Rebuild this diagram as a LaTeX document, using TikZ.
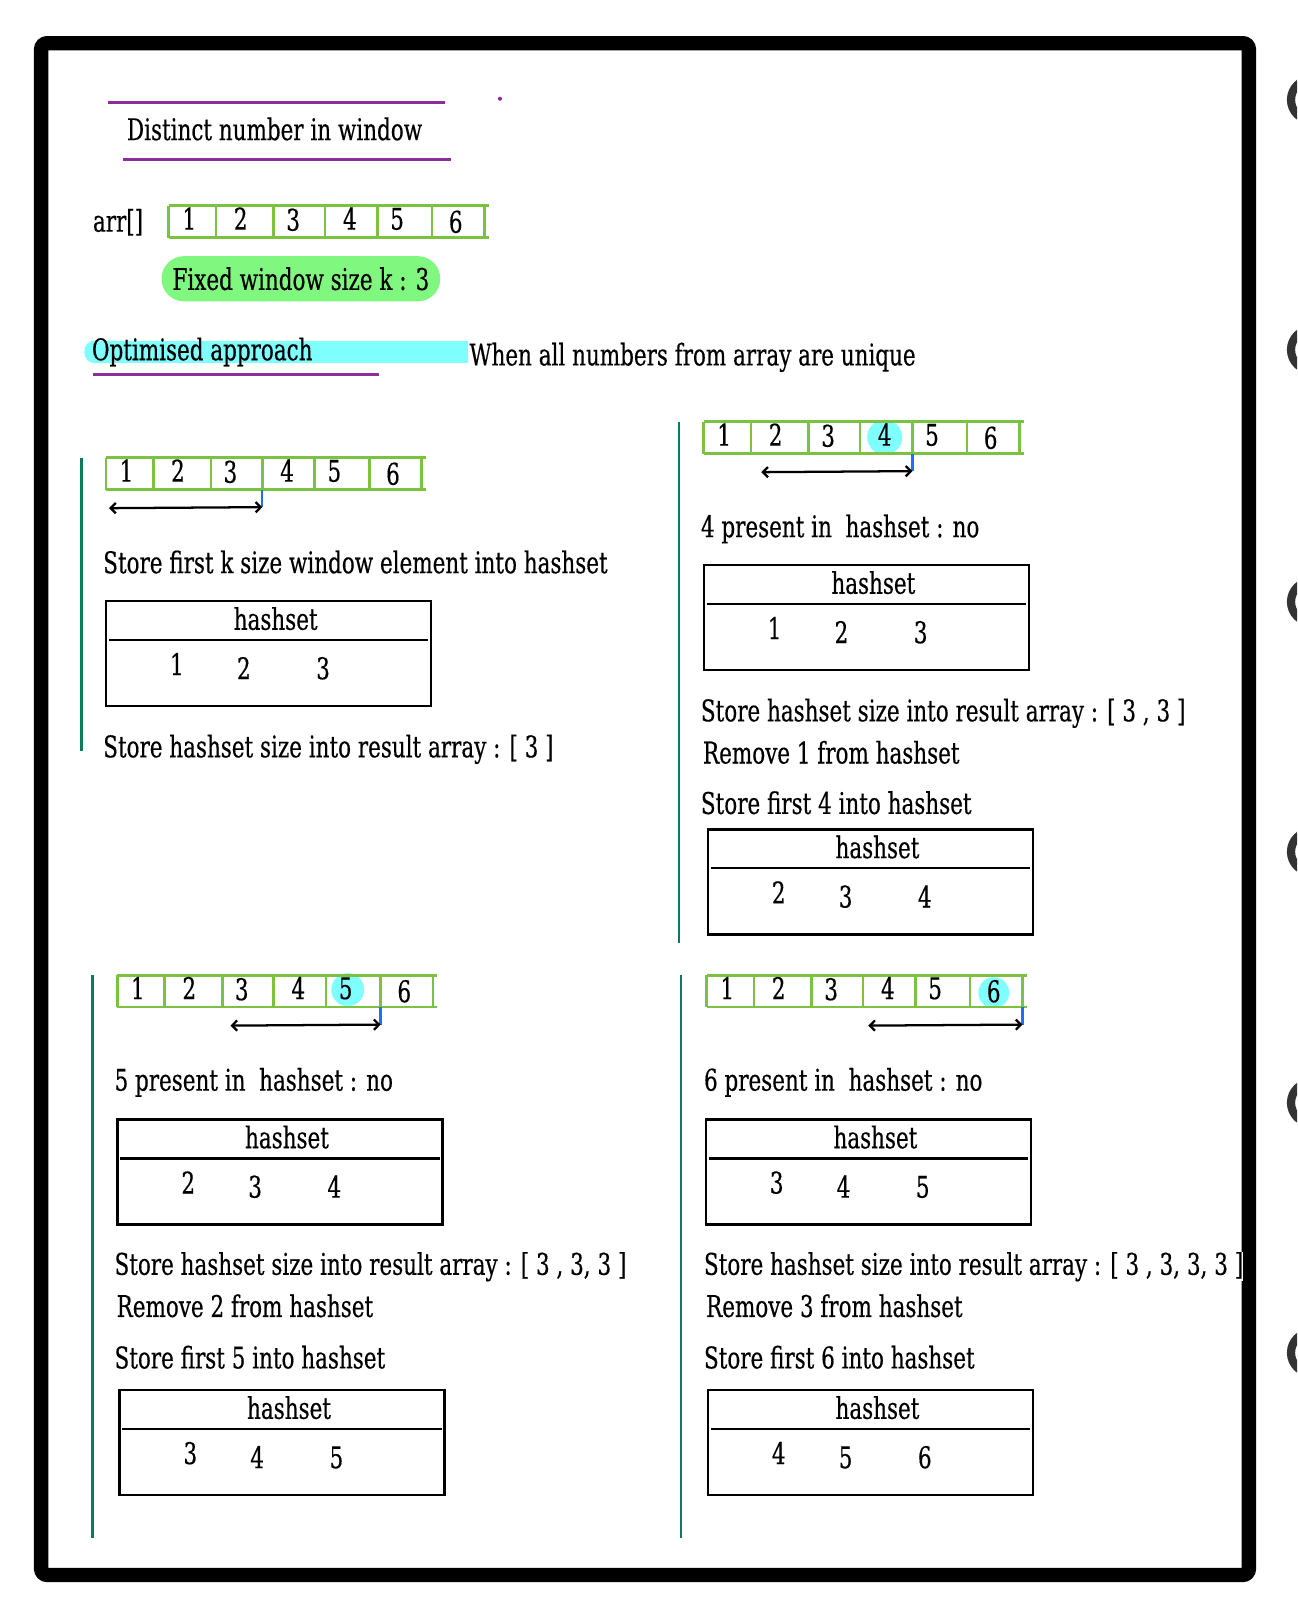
\documentclass[tikz,border=0pt]{standalone}
\usepackage{fontspec}
\setmainfont{DejaVu Serif}[FakeStretch=0.72,FakeBold=0.4]
\usetikzlibrary{arrows.meta,calc}
\definecolor{arrgreen}{HTML}{7CC242}
\definecolor{panelgreen}{HTML}{0E7A5A}
\definecolor{titlepurple}{HTML}{8E2C9C}
\definecolor{pillgreen}{HTML}{80F880}
\definecolor{hlcyan}{HTML}{80FFFF}
\definecolor{tickblue}{HTML}{1F6FFF}
\definecolor{ringgray}{HTML}{333333}
\tikzset{
  txt/.style={inner sep=0pt, anchor=mid west, yshift=-2pt, font=\fontsize{14.5pt}{17pt}\selectfont},
  ctxt/.style={inner sep=0pt, anchor=mid, yshift=-2pt, font=\fontsize{14.5pt}{17pt}\selectfont},
  arrline/.style={draw=arrgreen, line width=1.3pt},
  hsbox/.style={draw, line width=1.2pt, minimum width=158pt, minimum height=51pt, inner sep=0pt, anchor=north west},
  hsline/.style={line width=1.2pt},
  panelline/.style={draw=panelgreen, line width=1.3pt},
  purpleline/.style={draw=titlepurple, line width=1.4pt},
  tickline/.style={draw=tickblue, line width=1.1pt},
  warrow/.style={line width=1.1pt, arrows={Straight Barb[length=2.5pt,width=5pt]-Straight Barb[length=2.5pt,width=5pt]}},
  hlcircle/.style={circle, fill=hlcyan, inner sep=0pt, minimum size=#1},
  ring/.style={draw=ringgray, line width=4pt},
  pill/.style={fill=pillgreen, rounded corners=11pt, minimum width=135.5pt, minimum height=22pt, inner sep=0pt, font=\fontsize{14.5pt}{17pt}\selectfont},
  numrow/.pic={
    \draw[arrline] (0,0) -- (311,0) (0,31) -- (311,31);
    \foreach \x [count=\i from 0] in {0,46,102,152,203,256,307}{
      \draw[arrline] (\x,0) -- (\x,31);
      \coordinate (-d\i) at (\x,31);
    }
    \foreach \x/\d/\y in {20/1/14,70/2/14,121/3/15,176/4/14,222/5/14,279/6/17}
      \node[ctxt] (-n\d) at (\x,\y) {\d};
  }
}
\newcommand\hsetbox[6]{%
  \node[hsbox] (#1) at (#2,#3) {};
  \node[ctxt] (#1-h) at ($(#1.north west)+(166,20)$) {hashset};
  \coordinate (#1-l) at ($(#1.north west)+(4,39)$);
  \coordinate (#1-r) at ($(#1.north east)+(-4,39)$);
  \draw[hsline] (#1-l) -- (#1-r);
  \node[ctxt] (#1-a) at ($(#1.north west)+(70,64)$) {#4};
  \node[ctxt] (#1-b) at ($(#1.north west)+(135,68)$) {#5};
  \node[ctxt] (#1-c) at ($(#1.north west)+(212,68)$) {#6};
}
\begin{document}
\begin{tikzpicture}[x=0.5pt,y=-0.5pt]
\useasboundingbox (0,0) rectangle (1261,1568);
\clip (0,0) rectangle (1261,1568);
\fill[white] (0,0) rectangle (1261,1568);
% binder rings
\foreach \yy [count=\i] in {97,340,585,828,1072,1315}
  \draw[ring] (1275,\yy) circle[radius=10pt];
% frame
\draw[line width=7pt, rounded corners=3pt] (40,42) rectangle (1214,1531);

% title
\coordinate (tl1) at (105,100); \coordinate (tl2) at (433,100);
\draw[purpleline] (tl1) -- (tl2);
\node[txt] (title) at (123,127) {Distinct number in window};
\coordinate (bl1) at (120,155); \coordinate (bl2) at (438,155);
\draw[purpleline] (bl1) -- (bl2);
\fill[titlepurple] (486,96) circle[radius=1pt];

% array
\node[txt] (arrlabel) at (90,216) {arr[]};
\pic (a0) at (164,200) {numrow};
\node[pill] (kwin) at (292.5,271) {Fixed window size k : 3};

% optimised approach
\fill[hlcyan, rounded corners=5pt] (82,331) rectangle (120,353);
\fill[hlcyan] (100,331) rectangle (455,353);
\node[txt] (opt) at (89,341) {Optimised approach};
\coordinate (ol1) at (90,364); \coordinate (ol2) at (368,364);
\draw[purpleline] (ol1) -- (ol2);
\node[txt] (uniq) at (456,346) {When all numbers from array are unique};

% panel 1
\coordinate (v1a) at (79,445); \coordinate (v1b) at (79,730);
\draw[panelline] (v1a) -- (v1b);
\pic (p1) at (103,445) {numrow};
\draw[tickline] (p1-d3) -- ++(0,17) coordinate (p1-t);
\coordinate (p1-s) at ($(p1-d0)+(3,18)$);
\draw[warrow] (p1-s) -- (p1-t);
\node[txt] (s1a) at (100,548) {Store first k size window element into hashset};
\hsetbox{hb1}{102}{583}{1}{2}{3}
\node[txt] (s1b) at (100,727) {Store hashset size into result array : [ 3 ]};

% panel 2
\coordinate (v2a) at (660,410); \coordinate (v2b) at (660,917);
\draw[panelline] (v2a) -- (v2b);
\node[hlcircle=17pt] (hl2) at (860,425) {};
\pic (p2) at (684,410) {numrow};
\draw[tickline] (p2-d4) -- ++(0,17) coordinate (p2-t);
\coordinate (p2-s) at ($(p2-d1)+(10,18)$);
\draw[warrow] (p2-s) -- (p2-t);
\node[txt] (s2a) at (681,513) {4 present in\ \ hashset : no};
\hsetbox{hb2}{683}{548}{1}{2}{3}
\node[txt] (s2b) at (681,692) {Store hashset size into result array : [ 3 , 3 ]};
\node[txt] (s2c) at (683,733) {Remove 1 from hashset};
\node[txt] (s2d) at (681,782) {Store first 4 into hashset};
\hsetbox{hb3}{687}{805}{2}{3}{4}

% panel 3
\coordinate (v3a) at (90,948); \coordinate (v3b) at (90,1495);
\draw[panelline] (v3a) -- (v3b);
\node[hlcircle=16pt] (hl3) at (338,962) {};
\pic (p3) at (114,948) {numrow};
\draw[tickline] (p3-d5) -- ++(0,17) coordinate (p3-t);
\coordinate (p3-s) at ($(p3-d2)+(8,18)$);
\draw[warrow] (p3-s) -- (p3-t);
\node[txt] (s3a) at (111,1051) {5 present in\ \ hashset : no};
\hsetbox{hb4}{113}{1087}{2}{3}{4}
\node[txt] (s3b) at (111,1230) {Store hashset size into result array : [ 3 , 3, 3 ]};
\node[txt] (s3c) at (113,1271) {Remove 2 from hashset};
\node[txt] (s3d) at (111,1321) {Store first 5 into hashset};
\hsetbox{hb5}{115}{1350}{3}{4}{5}

% panel 4
\coordinate (v4a) at (662,948); \coordinate (v4b) at (662,1495);
\draw[panelline] (v4a) -- (v4b);
\node[hlcircle=15pt] (hl4) at (966,965) {};
\pic (p4) at (687,948) {numrow};
\draw[tickline] (p4-d6) -- ++(0,17) coordinate (p4-t);
\coordinate (p4-s) at ($(p4-d3)+(5,18)$);
\draw[warrow] (p4-s) -- (p4-t);
\node[txt] (s4a) at (684,1051) {6 present in\ \ hashset : no};
\hsetbox{hb6}{685}{1087}{3}{4}{5}
\node[txt, fill=white] (s4b) at (684,1230) {Store hashset size into result array : [ 3 , 3, 3, 3 ]};
\node[txt] (s4c) at (686,1271) {Remove 3 from hashset};
\node[txt] (s4d) at (684,1321) {Store first 6 into hashset};
\hsetbox{hb7}{687}{1350}{4}{5}{6}
\end{tikzpicture}
\end{document}
